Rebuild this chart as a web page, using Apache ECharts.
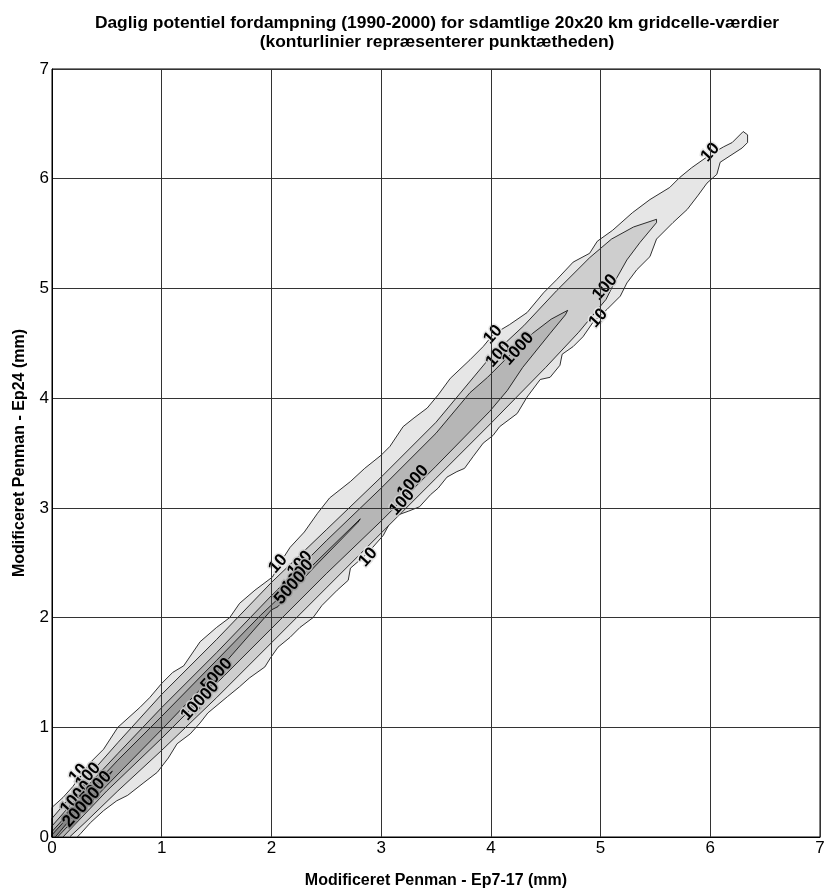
<!DOCTYPE html>
<html><head><meta charset="utf-8">
<script src="https://cdn.jsdelivr.net/npm/echarts@6/dist/echarts.min.js"></script>
<style>html,body{margin:0;padding:0;background:#fff}#c{width:826px;height:888px}</style>
</head><body><div id="c"></div>
<script>
const xTicks = [0, 1, 2, 3, 4, 5, 6, 7];
const yTicks = [0, 1, 2, 3, 4, 5, 6, 7];
const levels = ['10', '100', '1000', '5000', '20000'];

const contour10 = [[0,0],[0,0.27],[0.1,0.36],[0.19,0.46],[0.35,0.68],[0.47,0.80],[0.6,1.0],[0.8,1.18],[0.89,1.27],[1.0,1.40],[1.1,1.5],[1.2,1.56],[1.35,1.78],[1.5,1.91],[1.62,2.0],[1.71,2.13],[1.85,2.25],[2.01,2.37],[2.08,2.5],[2.17,2.64],[2.3,2.78],[2.42,2.95],[2.53,3.09],[2.72,3.24],[2.85,3.36],[3.0,3.48],[3.08,3.56],[3.2,3.74],[3.3,3.82],[3.42,3.91],[3.52,4.03],[3.63,4.18],[3.81,4.35],[3.93,4.47],[4.02,4.58],[4.17,4.67],[4.33,4.78],[4.48,4.96],[4.6,5.08],[4.75,5.24],[4.9,5.32],[4.97,5.43],[5.11,5.53],[5.29,5.69],[5.45,5.81],[5.63,5.92],[5.72,6.01],[5.83,6.10],[6.0,6.22],[6.12,6.29],[6.2,6.33],[6.3,6.43],[6.34,6.4],[6.34,6.33],
  [6.29,6.28],[6.09,6.15],[6.06,6.04],[5.97,5.96],[5.89,5.85],[5.79,5.72],[5.66,5.6],[5.51,5.45],[5.45,5.29],[5.33,5.17],[5.24,5.05],[5.18,4.93],[5.06,4.81],[4.93,4.69],[4.84,4.56],[4.75,4.47],[4.65,4.4],[4.63,4.3],[4.54,4.19],[4.45,4.17],[4.33,4.01],[4.24,3.86],[4.08,3.74],[4.02,3.66],[3.93,3.59],[3.84,3.47],[3.76,3.36],[3.69,3.33],[3.6,3.28],[3.52,3.18],[3.45,3.12],[3.35,3.01],[3.25,2.97],[3.11,2.92],[3.02,2.75],[2.87,2.58],[2.72,2.45],[2.7,2.34],[2.6,2.25],[2.46,2.11],[2.38,2.0],[2.26,1.91],[2.17,1.82],[2.06,1.73],[1.99,1.63],[1.94,1.55],[1.8,1.45],[1.71,1.37],[1.6,1.28],[1.42,1.13],[1.35,1.04],[1.26,0.94],[1.14,0.85],[1.06,0.72],[0.96,0.59],[0.83,0.49],[0.69,0.38],[0.59,0.33],[0.47,0.24],[0.35,0.13],[0.26,0.03],[0.23,0]];

const contour100 = [[0,0],[0,0.17],[0.3,0.52],[0.6,0.86],[1.0,1.3],[1.5,1.8],[2.0,2.32],[2.5,2.8],[3.0,3.28],[3.5,3.78],[4.0,4.38],[4.3,4.66],[4.6,4.98],[4.9,5.28],[5.1,5.45],[5.3,5.56],[5.51,5.63],
  [5.51,5.6],[5.36,5.42],[5.24,5.26],[5.15,5.1],[5.05,4.9],[4.8,4.6],[4.5,4.28],[4.0,3.77],[3.5,3.27],[3.0,2.77],[2.5,2.27],[2.0,1.77],[1.5,1.27],[1.0,0.79],[0.6,0.42],[0.3,0.13],[0.16,0]];

const contour1000 = [[0,0],[0,0.1],[0.3,0.44],[0.6,0.76],[1.0,1.18],[1.5,1.68],[2.0,2.2],[2.5,2.7],[3.0,3.18],[3.5,3.68],[3.81,4.05],[3.97,4.19],[4.2,4.42],[4.38,4.59],[4.55,4.72],[4.70,4.80],
  [4.68,4.76],[4.54,4.59],[4.29,4.28],[4.15,4.07],[3.99,3.88],[3.5,3.38],[3.0,2.88],[2.5,2.4],[2.0,1.9],[1.5,1.4],[1.0,0.9],[0.5,0.42],[0.1,0]];

const contour5000 = [[0,0],[0,0.05],[0.3,0.38],[0.6,0.7],[1.0,1.1],[1.5,1.61],[1.9,2.02],[2.08,2.19],[2.4,2.5],[2.81,2.90],
  [2.79,2.87],[2.4,2.47],[2.1,2.15],[2.06,2.1],[2.0,2.07],[1.64,1.66],[1.5,1.5],[1.0,0.98],[0.5,0.47],[0.05,0]];

const contour20000 = [[0,0],[0,0.02],[0.2,0.24],[0.45,0.52],[0.55,0.6],[0.5,0.53],[0.2,0.2],[0.03,0]];

const contourLabels = [
  [6.0, 6.24, '10'], [5.04, 5.01, '100'], [4.98, 4.73, '10'],
  [4.02, 4.58, '10'], [4.07, 4.40, '100'], [4.25, 4.45, '1000'],
  [3.29, 3.24, '1000'], [3.19, 3.05, '100'], [2.88, 2.55, '10'],
  [2.06, 2.49, '10'], [2.26, 2.49, '100'], [2.24, 2.38, '1000'], [2.17, 2.27, '5000'],
  [1.5, 1.48, '5000'], [1.38, 1.27, '1000'], [1.29, 1.18, '100'],
  [0.24, 0.58, '10'], [0.33, 0.56, '100'], [0.22, 0.36, '1000'], [0.4, 0.45, '5000'], [0.27, 0.27, '20000']
];

const fills = ['#e6e6e6', '#cecece', '#b6b6b6', '#9e9e9e', '#868686'];
const FONT = "'Liberation Sans', Arial, sans-serif";

function polySeries(name, pts, color) {
  return {
    type: 'custom', name: name, data: pts, encode: { x: 0, y: 1 }, silent: true, z: 2,
    renderItem: function (params, api) {
      if (params.dataIndex !== 0) return null;
      const points = pts.map(function (p) { return api.coord(p); });
      return { type: 'polygon', shape: { points: points }, style: { fill: color, stroke: '#000', lineWidth: 0.8 } };
    }
  };
}

const series = [
  polySeries('10', contour10, fills[0]),
  polySeries('100', contour100, fills[1]),
  polySeries('1000', contour1000, fills[2]),
  polySeries('5000', contour5000, fills[3]),
  polySeries('20000', contour20000, fills[4]),
  {
    type: 'custom', name: 'labels', data: contourLabels, encode: { x: 0, y: 1 }, silent: true, z: 4,
    renderItem: function (params, api) {
      const p = api.coord([api.value(0), api.value(1)]);
      const txt = contourLabels[params.dataIndex][2];
      const halo = fills[levels.indexOf(txt)];
      return {
        type: 'text', x: p[0], y: p[1], rotation: 48 * Math.PI / 180,
        style: { text: txt, font: 'bold 17px ' + FONT, fill: '#000', align: 'center', verticalAlign: 'middle',
                 stroke: halo, lineWidth: 3, strokeFirst: true }
      };
    }
  }
];

const chart = echarts.init(document.getElementById('c'));
chart.setOption({
  animation: false,
  backgroundColor: '#fff',
  title: {
    text: 'Daglig potentiel fordampning (1990-2000) for sdamtlige 20x20 km gridcelle-værdier\n(konturlinier repræsenterer punktætheden)',
    left: 432, top: 9, textAlign: 'center',
    textStyle: { fontFamily: FONT, fontSize: 17.4, fontWeight: 'bold', color: '#000', lineHeight: 19 }
  },
  grid: { left: 52, top: 69, width: 768, height: 768, show: true, borderColor: '#000', borderWidth: 1,
          containLabel: false, outerBoundsMode: 'none' },
  xAxis: {
    type: 'value', min: xTicks[0], max: xTicks[xTicks.length - 1], interval: 1, z: 5,
    name: 'Modificeret Penman - Ep7-17 (mm)', nameLocation: 'middle', nameGap: 36,
    nameTextStyle: { fontFamily: FONT, fontSize: 16, fontWeight: 'bold', color: '#000' },
    axisLine: { lineStyle: { color: '#000', width: 1 } },
    axisTick: { show: false },
    axisLabel: { fontFamily: FONT, fontSize: 17, color: '#000', margin: 3 },
    splitLine: { show: true, lineStyle: { color: '#333', width: 1 } }
  },
  yAxis: {
    type: 'value', min: yTicks[0], max: yTicks[yTicks.length - 1], interval: 1, z: 5,
    name: 'Modificeret Penman - Ep24 (mm)', nameLocation: 'middle', nameGap: 24,
    nameTextStyle: { fontFamily: FONT, fontSize: 16, fontWeight: 'bold', color: '#000' },
    axisLine: { lineStyle: { color: '#000', width: 1 } },
    axisTick: { show: false },
    axisLabel: { fontFamily: FONT, fontSize: 17, color: '#000', margin: 3 },
    splitLine: { show: true, lineStyle: { color: '#333', width: 1 } }
  },
  series: series
});
</script></body></html>
